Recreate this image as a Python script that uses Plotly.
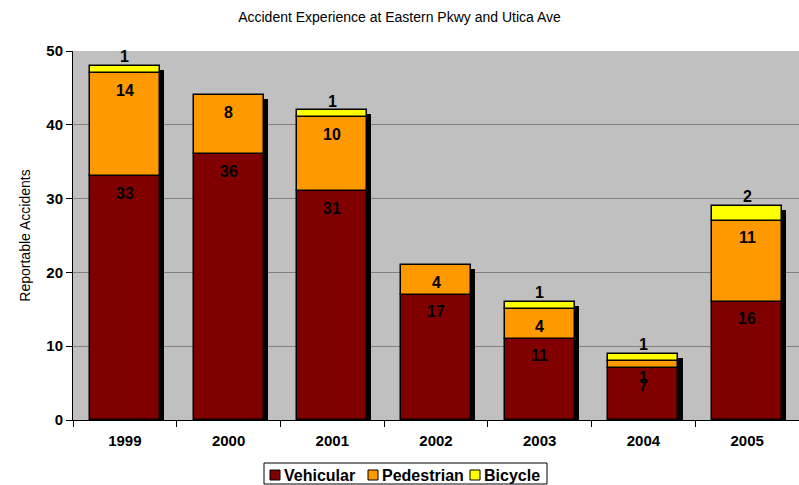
import plotly.graph_objects as go

FONT = "Liberation Sans"

years = ["1999", "2000", "2001", "2002", "2003", "2004", "2005"]
vehicular = [33, 36, 31, 17, 11, 7, 16]
pedestrian = [14, 8, 10, 4, 4, 1, 11]
bicycle = [1, 0, 1, 0, 1, 1, 2]

COLORS = {"Vehicular": "#800000", "Pedestrian": "#FF9900", "Bicycle": "#FFFF00"}
BAR_W = 0.675

# plot area in pixels, used to place the hand-made legend
L, R, T, B = 73, 799, 51, 420


def px_x(p):
    return (p - L) / (R - L)


def px_y(p):
    return (B - p) / (B - T)


ped_base = vehicular
bike_base = [v + p for v, p in zip(vehicular, pedestrian)]
totals = [b + c for b, c in zip(bike_base, bicycle)]

fig = go.Figure()

# drop shadow behind each stack
fig.add_trace(
    go.Bar(
        x=years,
        y=[t - 0.55 for t in totals],
        width=BAR_W,
        offset=-BAR_W / 2 + 0.04,
        marker=dict(color="black", line=dict(width=0)),
        showlegend=False,
        hoverinfo="skip",
    )
)

series = [
    ("Vehicular", vehicular, [0] * len(years)),
    ("Pedestrian", pedestrian, ped_base),
    ("Bicycle", bicycle, bike_base),
]
for name, vals, base in series:
    keep = [i for i, v in enumerate(vals) if v > 0]
    fig.add_trace(
        go.Bar(
            name=name,
            x=[years[i] for i in keep],
            y=[vals[i] for i in keep],
            base=[base[i] for i in keep],
            width=BAR_W,
            marker=dict(color=COLORS[name], line=dict(color="black", width=1.5)),
            showlegend=False,
        )
    )

annotations = []
for name, vals, base in series:
    for i, (v, b) in enumerate(zip(vals, base)):
        if v == 0:
            continue
        annotations.append(
            dict(
                x=i,
                y=b + v,
                text=str(v),
                showarrow=False,
                yshift=9 if name == "Bicycle" else -17,
                font=dict(family=FONT, size=16, color="black", weight="bold"),
            )
        )

# legend box drawn by hand (Excel style: small square right next to the label)
shapes = [
    dict(
        type="rect", xref="paper", yref="paper",
        x0=px_x(264), x1=px_x(547), y0=px_y(463), y1=px_y(484),
        line=dict(color="black", width=1), fillcolor="white", layer="above",
    )
]
legend_x = [270, 368, 470]
for name, lx in zip(COLORS, legend_x):
    shapes.append(
        dict(
            type="rect", xref="paper", yref="paper",
            x0=px_x(lx), x1=px_x(lx + 10), y0=px_y(470), y1=px_y(480),
            line=dict(color="black", width=1), fillcolor=COLORS[name], layer="above",
        )
    )
    annotations.append(
        dict(
            xref="paper", yref="paper",
            x=px_x(lx + 12), y=px_y(475.5),
            xanchor="left", yanchor="middle",
            text=name, showarrow=False,
            font=dict(family=FONT, size=16, color="black", weight="bold"),
        )
    )

fig.update_layout(
    width=799,
    height=485,
    barmode="overlay",
    bargap=0,
    plot_bgcolor="#C0C0C0",
    paper_bgcolor="white",
    margin=dict(l=L, r=799 - R, t=T, b=485 - B),
    font=dict(family=FONT, color="black"),
    showlegend=False,
    title=dict(
        text="Accident Experience at Eastern Pkwy and Utica Ave",
        x=0.5,
        xanchor="center",
        y=0.965,
        yanchor="middle",
        font=dict(family=FONT, size=14, color="black"),
    ),
    annotations=annotations,
    shapes=shapes,
)

fig.update_xaxes(
    type="category",
    categoryorder="array",
    categoryarray=years,
    range=[-0.5, len(years) - 0.5],
    showline=True,
    linecolor="black",
    linewidth=1,
    ticks="outside",
    tickson="boundaries",
    ticklen=6,
    tickcolor="black",
    showgrid=False,
    tickangle=0,
    tickfont=dict(family=FONT, size=15, color="black", weight="bold"),
    ticklabelstandoff=7,
)
fig.update_yaxes(
    range=[0, 50],
    dtick=10,
    showline=True,
    linecolor="black",
    linewidth=1,
    ticks="outside",
    ticklen=6,
    tickcolor="black",
    showgrid=True,
    gridcolor="#808080",
    gridwidth=1,
    zeroline=False,
    tickfont=dict(family=FONT, size=15, color="black", weight="bold"),
    title=dict(
        text="Reportable Accidents",
        font=dict(family=FONT, size=14, color="black"),
        standoff=12,
    ),
)

fig.write_html(
    "out.html",
    config={"displayModeBar": False},
    post_script="document.body.style.margin='0';",
)
